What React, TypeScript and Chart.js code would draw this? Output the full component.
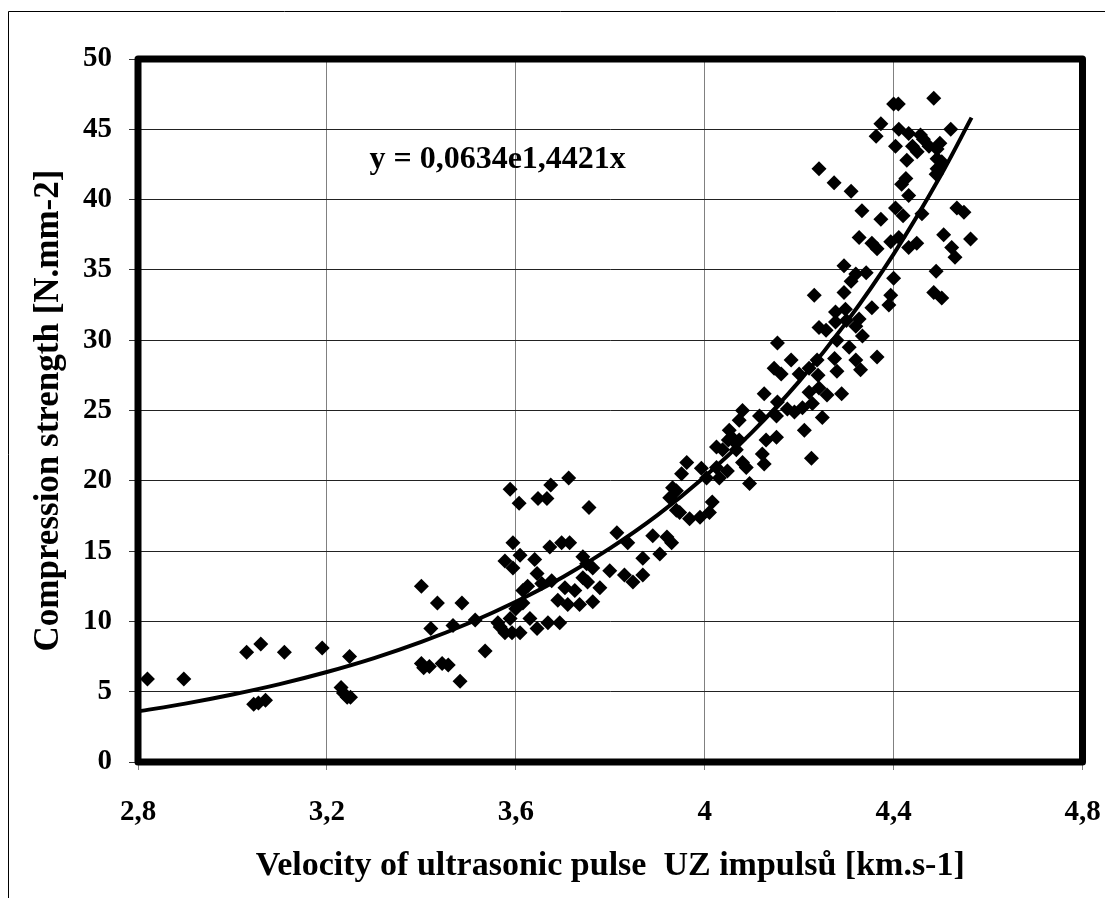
import { useEffect, useRef } from 'react';
import { Chart, registerables } from 'chart.js';

Chart.register(...registerables);

const FONT = "'Liberation Serif', 'Times New Roman', serif";

const xTickLabels = ['2,8', '3,2', '3,6', '4', '4,4', '4,8'];
const xTitle = 'Velocity of ultrasonic pulse  UZ impulsů [km.s-1]';
const yTitle = 'Compression strength [N.mm-2]';
const equationText = 'y = 0,0634e1,4421x';
const equationAt = [3.29, 42.8];

const velocity = [
  2.82, 2.897, 3.03, 3.06, 3.11, 3.19, 3.045, 3.055, 3.07, 3.23,
  3.235, 3.243, 3.25, 3.248, 3.40, 3.434, 3.486, 3.42, 3.467, 3.514,
  3.40, 3.417, 3.444, 3.457, 3.405, 3.482, 3.535, 3.562, 3.567, 3.588,
  3.577, 3.592, 3.609, 3.588, 3.607, 3.674, 3.647, 3.666, 3.712, 3.755,
  3.594, 3.577, 3.609, 3.594, 3.64, 3.645, 3.672, 3.697, 3.714, 3.615,
  3.625, 3.655, 3.676, 3.704, 3.725, 3.742, 3.75, 3.763, 3.742, 3.752,
  3.778, 3.689, 3.71, 3.735, 3.763, 3.63, 3.645, 3.668, 3.693, 3.615,
  3.60, 3.814, 3.837, 3.799, 3.83, 3.848, 3.869, 3.869, 3.89, 3.905,
  3.92, 3.93, 3.926, 3.94, 3.94, 3.962, 3.951, 3.932, 3.947, 3.968,
  3.99, 4.01, 4.016, 3.993, 4.004, 4.025, 4.031, 4.048, 4.08, 4.088,
  4.095, 4.025, 4.038, 4.067, 4.05, 4.065, 4.13, 4.152, 4.122, 4.126,
  4.052, 4.057, 4.073, 4.08, 4.073, 4.116, 4.154, 4.152, 4.175, 4.19,
  4.207, 4.228, 4.221, 4.242, 4.259, 4.126, 4.154, 4.183, 4.147, 4.162,
  4.2, 4.238, 4.221, 4.24, 4.275, 4.28, 4.29, 4.249, 4.211, 4.226,
  4.232, 4.242, 4.257, 4.28, 4.295, 4.277, 4.298, 4.277, 4.3, 4.32,
  4.327, 4.334, 4.306, 4.354, 4.365, 4.32, 4.33, 4.295, 4.32, 4.31,
  4.342, 4.40, 4.394, 4.39, 4.49, 4.485, 4.502, 4.327, 4.354, 4.365,
  4.394, 4.411, 4.432, 4.449, 4.506, 4.523, 4.53, 4.563, 4.31, 4.333,
  4.373, 4.404, 4.42, 4.46, 4.534, 4.549, 4.242, 4.274, 4.40, 4.41,
  4.485, 4.373, 4.363, 4.411, 4.432, 4.457, 4.463, 4.404, 4.44, 4.45,
  4.475, 4.492, 4.498, 4.521, 4.428, 4.492, 4.502, 4.492, 4.49, 4.426,
  4.417, 4.432,
];

const strength = [
  5.9, 5.9, 7.8, 8.4, 7.8, 8.1, 4.1, 4.2, 4.4, 5.3,
  4.9, 4.6, 4.6, 7.5, 12.5, 11.3, 11.3, 9.5, 9.7, 10.1,
  7.0, 6.8, 7.0, 6.9, 6.7, 5.75, 7.9, 9.9, 9.6, 10.2,
  9.2, 9.2, 9.2, 19.4, 18.4, 19.7, 18.75, 18.75, 20.2, 18.1,
  15.6, 14.3, 14.7, 13.8, 14.4, 13.4, 15.3, 15.6, 15.6, 12.2,
  12.5, 12.7, 12.9, 12.4, 12.2, 14.6, 14.1, 13.8, 13.1, 12.8,
  12.4, 11.5, 11.2, 11.2, 11.4, 10.2, 9.5, 9.9, 9.9, 11.3,
  10.9, 16.3, 15.6, 13.6, 13.3, 12.8, 13.3, 14.5, 16.1, 14.8,
  16.0, 15.6, 18.8, 19.3, 17.9, 21.3, 20.5, 19.5, 17.75, 17.3,
  17.4, 17.75, 18.5, 20.9, 20.2, 20.95, 20.2, 20.7, 21.3, 20.95,
  19.8, 22.4, 22.2, 22.2, 22.9, 22.7, 22.9, 23.1, 21.9, 21.2,
  23.6, 23.1, 22.9, 25.0, 24.3, 24.6, 25.6, 24.6, 25.1, 24.9,
  25.2, 25.5, 26.3, 26.6, 26.1, 26.2, 29.8, 28.6, 28.0, 27.6,
  27.6, 28.6, 28.0, 27.5, 28.7, 27.8, 26.2, 24.5, 23.6, 21.6,
  33.2, 30.9, 30.7, 30.0, 33.4, 32.0, 32.2, 31.3, 31.4, 31.0,
  31.5, 30.3, 29.5, 32.3, 28.8, 28.6, 27.9, 35.3, 34.7, 34.2,
  34.8, 34.4, 33.2, 32.5, 34.9, 33.4, 33.0, 37.3, 36.9, 36.5,
  37.0, 37.3, 36.6, 36.9, 37.5, 36.6, 35.9, 37.2, 40.6, 39.2,
  38.6, 39.4, 38.85, 39.0, 39.4, 39.1, 42.2, 41.2, 46.8, 46.8,
  47.2, 45.4, 44.5, 45.0, 44.7, 44.6, 44.3, 43.8, 43.8, 43.4,
  43.8, 43.6, 44.0, 45.0, 42.8, 42.9, 42.7, 42.2, 41.8, 41.5,
  41.1, 40.3,
];

// exponential trend line
const trendX = [2.8, 2.9, 3.0, 3.1, 3.2, 3.3, 3.4, 3.5, 3.6, 3.7, 3.8, 3.9, 4.0, 4.1, 4.2, 4.3, 4.4, 4.5, 4.565];
const trendY = [3.6, 4.15, 4.8, 5.54, 6.4, 7.39, 8.54, 9.87, 11.4, 13.16, 15.21, 17.56, 20.29, 23.44, 27.07, 31.27, 36.12, 41.73, 45.83];

const W = 1105;
const H = 890;

export default function App() {
  const ref = useRef<HTMLCanvasElement | null>(null);

  useEffect(() => {
    if (!ref.current) return;

    const framePlugin = {
      id: 'frame',
      beforeDraw(chart: any) {
        const ctx = chart.ctx;
        ctx.save();
        ctx.fillStyle = '#fff';
        ctx.fillRect(0, 0, chart.width, chart.height);
        ctx.strokeStyle = '#000';
        ctx.lineWidth = 1;
        ctx.beginPath();
        ctx.moveTo(0.5, chart.height);
        ctx.lineTo(0.5, 3.5);
        ctx.lineTo(chart.width, 3.5);
        ctx.stroke();
        ctx.restore();
      },
      afterDraw(chart: any) {
        const { ctx, chartArea: a, scales } = chart;
        ctx.save();
        ctx.strokeStyle = '#000';
        ctx.lineWidth = 7;
        ctx.lineJoin = 'round';
        ctx.strokeRect(a.left, a.top, a.right - a.left, a.bottom - a.top);
        ctx.fillStyle = '#000';
        ctx.font = `bold 32px ${FONT}`;
        ctx.textAlign = 'left';
        ctx.textBaseline = 'middle';
        ctx.fillText(
          equationText,
          scales.x.getPixelForValue(equationAt[0]),
          scales.y.getPixelForValue(equationAt[1])
        );
        ctx.restore();
      },
    };

    const chart = new Chart(ref.current, {
      type: 'scatter',
      data: {
        datasets: [
          {
            type: 'line',
            label: 'trend',
            data: trendX.map((x, i) => ({ x, y: trendY[i] })),
            borderColor: '#000',
            borderWidth: 4,
            pointRadius: 0,
            fill: false,
            cubicInterpolationMode: 'monotone',
          } as any,
          {
            type: 'scatter',
            label: 'data',
            data: velocity.map((x, i) => ({ x, y: strength[i] })),
            pointStyle: 'rectRot',
            pointRadius: 7.5,
            backgroundColor: '#000',
            borderColor: '#000',
            borderWidth: 0,
          },
        ],
      },
      options: {
        animation: false,
        responsive: false,
        maintainAspectRatio: false,
        layout: { padding: { left: 0, top: 51, right: 30.5, bottom: 0 } },
        plugins: {
          legend: { display: false },
          tooltip: { enabled: false },
        },
        scales: {
          x: {
            type: 'linear',
            min: 2.8,
            max: 4.8,
            afterFit: (s: any) => {
              s.height = 136;
              s.paddingLeft = 0;
              s.paddingRight = 0;
            },
            border: { display: false },
            grid: { color: '#808080', lineWidth: 1, tickLength: 8, tickColor: '#808080' },
            ticks: {
              stepSize: 0.4,
              color: '#000',
              padding: 25,
              maxRotation: 0,
              autoSkip: false,
              font: { family: FONT, size: 29, weight: 'bold' },
              callback: (_v: any, i: number) => xTickLabels[i] ?? '',
            },
            title: {
              display: true,
              text: xTitle,
              color: '#000',
              font: { family: FONT, size: 34, weight: 'bold' },
              padding: { top: 0, bottom: 11 },
            },
          },
          y: {
            type: 'linear',
            min: 0,
            max: 50,
            afterFit: (s: any) => {
              s.width = 130;
              s.paddingTop = 0;
              s.paddingBottom = 0;
            },
            border: { display: false },
            grid: { color: '#222', lineWidth: 1, tickLength: 9, tickColor: '#333' },
            ticks: {
              stepSize: 5,
              color: '#000',
              padding: 17,
              font: { family: FONT, size: 29, weight: 'bold' },
            },
            title: {
              display: true,
              text: yTitle,
              color: '#000',
              font: { family: FONT, size: 35, weight: 'bold' },
              padding: { top: 20, bottom: 0 },
            },
          },
        },
      },
      plugins: [framePlugin],
    } as any);

    return () => chart.destroy();
  }, []);

  return (
    <canvas
      ref={ref}
      width={W}
      height={H}
      style={{ display: 'block', width: W, height: H }}
    />
  );
}
